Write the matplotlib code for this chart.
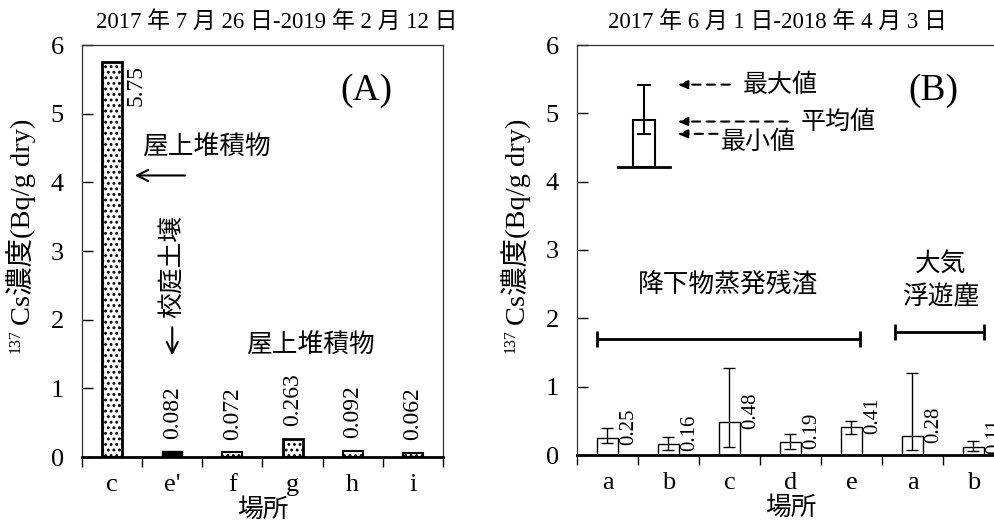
import numpy as np
import matplotlib as mpl
from matplotlib import pyplot as plt

SERIF = ['Liberation Serif', 'Noto Sans CJK JP']
GOTHIC = ['Noto Sans CJK JP', 'DejaVu Sans']

# (A) roof deposits and schoolyard soil
sites_a = ["c", "e'", "f", "g", "h", "i"]
conc_a = [5.75, 0.082, 0.072, 0.263, 0.092, 0.062]
label_a = ["5.75", "0.082", "0.072", "0.263", "0.092", "0.062"]

# (B) fallout evaporation residue (a-e) and airborne dust (a-b)
sites_b = ["a", "b", "c", "d", "e", "a", "b"]
mean_b = [0.25, 0.16, 0.48, 0.19, 0.41, 0.28, 0.11]
min_b = [0.18, 0.07, 0.12, 0.09, 0.31, 0.08, 0.06]
max_b = [0.39, 0.27, 1.28, 0.31, 0.50, 1.20, 0.21]

# legend sketch in (B): mean, min, max
key_mean, key_min, key_max, key_base = 4.90, 4.70, 5.42, 4.22

W, H = 995, 529


def px(x, y):
    return x / W, 1 - y / H


def style_axis(ax, names):
    n = len(names)
    ax.set_xlim(-0.5, n - 0.5)
    ax.set_ylim(0, 6)
    ax.set_yticks(range(7))
    ax.set_xticks(np.arange(n + 1) - 0.5)
    ax.set_xticklabels([])
    ax.set_xticks(np.arange(n), labels=names, minor=True)
    ax.tick_params(axis='y', direction='in', length=8, width=1, pad=13)
    ax.tick_params(axis='x', which='major', direction='out', length=7, width=1)
    ax.tick_params(axis='x', which='minor', length=0, pad=12)
    for lab in ax.get_yticklabels() + ax.get_xticklabels(minor=True):
        lab.set_family(SERIF)
        lab.set_fontsize(19)
    ax.spines['bottom'].set_linewidth(2)
    for s in ['left', 'top', 'right']:
        ax.spines[s].set_linewidth(0.9)
        ax.spines[s].set_color('#333333')
    ax.set_xlabel("場所", family=GOTHIC, fontsize=18.5, labelpad=1)


def ylabel(x, y):
    fig.text(*px(x, y), "Cs濃度(Bq/g dry)", family=SERIF, fontsize=20.5,
             rotation=90, rotation_mode='anchor', ha='left', va='center')
    fig.text(*px(x - 5, y + 4), "137", family=SERIF, fontsize=11.5,
             rotation=90, rotation_mode='anchor', ha='right', va='center')


mpl.rcParams['hatch.linewidth'] = 1.3
fig = plt.figure(figsize=(W / 100, H / 100), dpi=100)

# ---- panel A
ax1 = fig.add_axes([82 / W, 1 - 457 / H, 361 / W, 412 / H])
xa = np.arange(len(sites_a))
hatches = ['...', '', '...', '...', '...', '...']
faces = ['white', 'black', 'white', 'white', 'white', 'white']
edge_w = [2, 1, 1.5, 2, 1.5, 1.5]
for i in range(len(sites_a)):
    ax1.bar(xa[i], conc_a[i], width=0.33, color=faces[i], edgecolor='black',
            hatch=hatches[i], linewidth=edge_w[i], zorder=2)
ax1.annotate(label_a[0], (xa[0] + 0.4, conc_a[0]), xytext=(0, -2), textcoords='offset points',
             rotation=90, ha='center', va='top', family=SERIF, fontsize=17)
for i in range(1, len(sites_a)):
    ax1.annotate(label_a[i], (xa[i], conc_a[i]), xytext=(0, 9), textcoords='offset points',
                 rotation=90, ha='center', va='bottom', family=SERIF, fontsize=17)
style_axis(ax1, sites_a)

ax1.text(1.56, 4.51, "屋上堆積物", family=GOTHIC, fontsize=18.5, ha='center', va='center')
ax1.annotate("", xy=(0.33, 4.1), xytext=(1.26, 4.1),
             arrowprops=dict(arrowstyle='->,head_length=0.8,head_width=0.4', lw=1.5, color='black'))
ax1.text(1.0, 2.78, "校庭土壌", family=GOTHIC, fontsize=18.5, rotation=90, ha='center', va='center')
ax1.annotate("", xy=(1.0, 1.44), xytext=(1.0, 1.93),
             arrowprops=dict(arrowstyle='->,head_length=0.8,head_width=0.4', lw=1.5, color='black'))
ax1.text(3.29, 1.62, "屋上堆積物", family=GOTHIC, fontsize=18.5, ha='center', va='center')
ax1.text(4.22, 5.33, "(A)", family=SERIF, fontsize=27, ha='center', va='center')

# ---- panel B (runs past the right edge of the figure)
ax2 = fig.add_axes([577 / W, 1 - 455 / H, 427 / W, 410 / H])
xb = np.arange(len(sites_b))
mean = np.array(mean_b)
yerr = [mean - np.array(min_b), np.array(max_b) - mean]
ax2.bar(xb, mean, width=0.33, color='white', edgecolor='black', linewidth=1, zorder=2)
ax2.errorbar(xb, mean, yerr=yerr, fmt='none', ecolor='black', elinewidth=1,
             capsize=4.5, capthick=1, zorder=3)
for i in range(len(sites_b)):
    ax2.annotate(f"{mean_b[i]:.2f}", (xb[i] + 0.35, mean_b[i]), xytext=(0, 8),
                 textcoords='offset points', rotation=90, ha='center', va='center',
                 family=SERIF, fontsize=15)
style_axis(ax2, sites_b)

# legend sketch
kx = 0.6
ax2.bar(kx, key_mean - key_base, bottom=key_base, width=0.36, color='white',
        edgecolor='black', linewidth=1.5, zorder=2)
ax2.errorbar(kx, key_mean, yerr=[[key_mean - key_min], [key_max - key_mean]], fmt='none',
             ecolor='black', elinewidth=1.5, capsize=5, capthick=1.5, zorder=3)
ax2.plot([0.17, 1.02], [key_base, key_base], color='black', lw=2)
arrow = dict(arrowstyle='-|>,head_length=0.6,head_width=0.25', lw=1.5, ls=(0, (4, 3)), color='black')
ax2.annotate("", xy=(1.10, key_max), xytext=(2.05, key_max), arrowprops=arrow)
ax2.annotate("", xy=(1.10, 4.88), xytext=(3.00, 4.88), arrowprops=arrow)
ax2.annotate("", xy=(1.10, key_min), xytext=(1.85, key_min), arrowprops=arrow)
ax2.text(2.22, key_max, "最大値", family=GOTHIC, fontsize=18, va='center')
ax2.text(3.17, 4.88, "平均値", family=GOTHIC, fontsize=18, va='center')
ax2.text(1.85, 4.58, "最小値", family=GOTHIC, fontsize=18, va='center')
ax2.text(5.35, 5.33, "(B)", family=SERIF, fontsize=27, ha='center', va='center')

# group brackets
ax2.errorbar((-0.17 + 4.14) / 2, 1.70, xerr=(4.14 + 0.17) / 2, fmt='none', ecolor='black',
             elinewidth=2, capsize=6, capthick=2)
ax2.errorbar((4.71 + 6.17) / 2, 1.80, xerr=(6.17 - 4.71) / 2, fmt='none', ecolor='black',
             elinewidth=2, capsize=6, capthick=2)
ax2.text(1.97, 2.49, "降下物蒸発残渣", family=GOTHIC, fontsize=18.5, ha='center', va='center')
ax2.text(5.46, 2.80, "大気", family=GOTHIC, fontsize=18.5, ha='center', va='center')
ax2.text(5.46, 2.31, "浮遊塵", family=GOTHIC, fontsize=18.5, ha='center', va='center')

# titles and y labels
fig.text(*px(277, 22), "2017 年 7 月 26 日-2019 年 2 月 12 日", family=SERIF, fontsize=16.5,
         ha='center', va='center')
fig.text(*px(777, 22), "2017 年 6 月 1 日-2018 年 4 月 3 日", family=SERIF, fontsize=16.5,
         ha='center', va='center')
ylabel(21, 325)
ylabel(516, 325)

fig.savefig("out.png", dpi=100)
